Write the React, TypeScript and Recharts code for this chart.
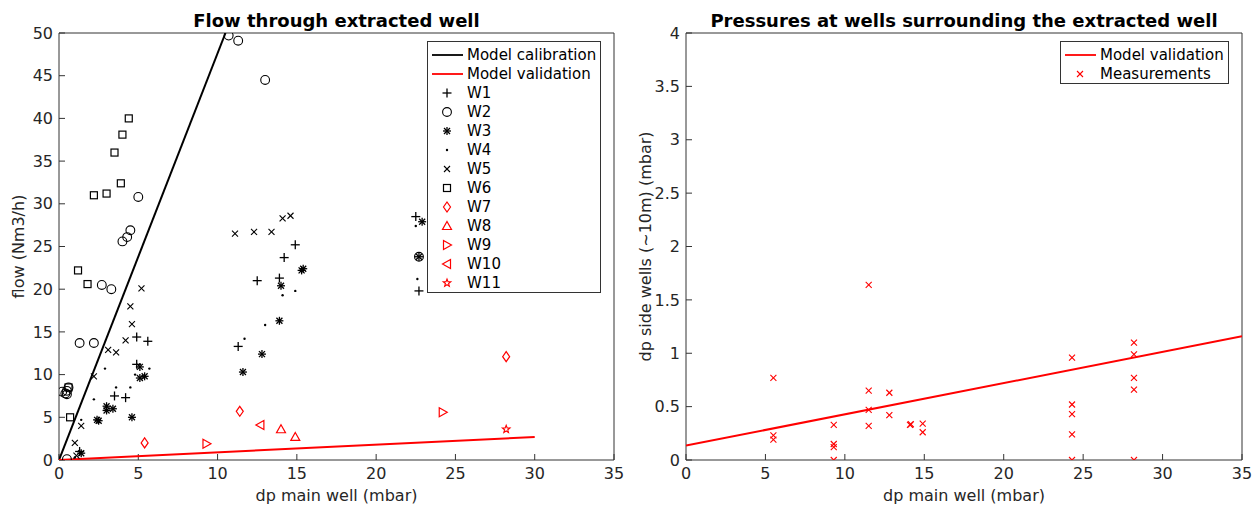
import React from 'react';
import { ScatterChart, Scatter, XAxis, YAxis, Legend } from 'recharts';

// ---- data ----
const xTicks = [0, 5, 10, 15, 20, 25, 30, 35];
const flowTicks = [0, 5, 10, 15, 20, 25, 30, 35, 40, 45, 50];
const dpTicks = [0, 0.5, 1, 1.5, 2, 2.5, 3, 3.5, 4];

const calibration = [
  { x: 0, y: 0 },
  { x: 10.5, y: 50 },
];
const validationFlow = [
  { x: 0, y: 0 },
  { x: 30, y: 2.7 },
];
const validationSide = [
  { x: 0, y: 0.135 },
  { x: 35, y: 1.16 },
];

const toPts = (a: number[][]) => a.map(([x, y]) => ({ x, y }));

const w1 = toPts([[22.5, 28.5], [22.7, 19.8], [14.9, 25.2], [14.2, 23.7], [12.5, 21.0], [13.9, 21.3], [11.3, 13.3], [4.9, 14.4], [5.6, 13.9], [4.9, 11.2], [3.5, 7.5], [4.2, 7.3], [1.3, 1.0]]);
const w2 = toPts([[10.7, 49.7], [11.3, 49.1], [13.0, 44.5], [5.0, 30.8], [4.5, 26.9], [4.3, 26.1], [4.0, 25.6], [2.7, 20.5], [3.3, 20.0], [1.3, 13.7], [2.2, 13.7], [0.2, 8.0], [0.4, 7.8], [0.5, 7.7], [0.5, 8.1], [0.6, 8.5], [0.5, 0.1], [22.7, 23.8]]);
const w3 = toPts([[5.1, 10.9], [5.1, 9.6], [5.4, 9.8], [3.0, 6.3], [3.4, 6.0], [3.0, 5.8], [2.4, 4.7], [2.5, 4.6], [4.6, 5.0], [1.4, 0.8], [15.3, 22.2], [15.4, 22.4], [14.0, 20.4], [13.9, 16.3], [12.8, 12.4], [11.6, 10.3], [22.9, 27.9], [22.7, 23.8]]);
const w4 = toPts([[14.9, 19.8], [14.1, 19.3], [13.0, 15.8], [11.7, 14.2], [2.9, 10.7], [5.7, 10.7], [4.8, 10.0], [4.5, 8.5], [3.6, 8.5], [2.2, 7.1], [1.4, 4.7], [22.5, 27.4], [22.6, 21.2], [1.0, 0.3]]);
const w5 = toPts([[11.1, 26.5], [12.3, 26.7], [13.4, 26.7], [14.1, 28.3], [14.6, 28.6], [5.2, 20.1], [4.5, 18.0], [4.6, 15.9], [4.2, 14.0], [3.1, 12.9], [3.6, 12.6], [2.2, 9.8], [1.4, 4.0], [1.0, 2.0], [1.1, 0.5]]);
const w6 = toPts([[4.4, 40.0], [4.0, 38.1], [3.5, 36.0], [3.9, 32.4], [2.2, 31.0], [3.0, 31.2], [1.2, 22.2], [1.8, 20.6], [0.6, 8.5], [0.7, 5.0]]);
const w7 = toPts([[5.4, 2.0], [11.4, 5.7], [28.2, 12.1]]);
const w8 = toPts([[14.0, 3.6], [14.9, 2.7]]);
const w9 = toPts([[9.3, 1.9], [24.2, 5.6]]);
const w10 = toPts([[12.7, 4.1]]);
const w11 = toPts([[28.2, 3.6]]);

const measurements = toPts([
  [5.5, 0.77], [5.5, 0.23], [5.5, 0.19],
  [9.3, 0.33], [9.3, 0.15], [9.3, 0.12], [9.3, 0],
  [11.5, 1.64], [11.5, 0.65], [11.5, 0.47], [11.5, 0.32],
  [12.8, 0.63], [12.8, 0.42],
  [14.1, 0.33], [14.15, 0.335],
  [14.9, 0.34], [14.9, 0.26],
  [24.3, 0.96], [24.3, 0.52], [24.3, 0.43], [24.3, 0.24], [24.3, 0],
  [28.2, 1.10], [28.2, 0.99], [28.2, 0.77], [28.2, 0.66], [28.2, 0],
]);

// ---- marker glyphs ----
const BLACK = '#000';
const RED = '#ff0000';
const FONT = 'DejaVu Sans, sans-serif';

type Glyph = (cx: number, cy: number) => React.ReactElement;

const plus: Glyph = (cx, cy) => (
  <g stroke={BLACK} strokeWidth={1.3}>
    <line x1={cx - 4.5} y1={cy} x2={cx + 4.5} y2={cy} />
    <line x1={cx} y1={cy - 4.5} x2={cx} y2={cy + 4.5} />
  </g>
);
const circle: Glyph = (cx, cy) => <circle cx={cx} cy={cy} r={4.4} fill="none" stroke={BLACK} strokeWidth={1.1} />;
const asterisk: Glyph = (cx, cy) => (
  <g stroke={BLACK} strokeWidth={1.3}>
    <line x1={cx - 4} y1={cy} x2={cx + 4} y2={cy} />
    <line x1={cx} y1={cy - 4} x2={cx} y2={cy + 4} />
    <line x1={cx - 3} y1={cy - 3} x2={cx + 3} y2={cy + 3} />
    <line x1={cx - 3} y1={cy + 3} x2={cx + 3} y2={cy - 3} />
  </g>
);
const dot: Glyph = (cx, cy) => <circle cx={cx} cy={cy} r={1.2} fill={BLACK} />;
const cross = (color: string): Glyph => (cx, cy) => (
  <g stroke={color} strokeWidth={1.1}>
    <line x1={cx - 3} y1={cy - 3} x2={cx + 3} y2={cy + 3} />
    <line x1={cx - 3} y1={cy + 3} x2={cx + 3} y2={cy - 3} />
  </g>
);
const square: Glyph = (cx, cy) => <rect x={cx - 3.5} y={cy - 3.5} width={7} height={7} fill="none" stroke={BLACK} strokeWidth={1.2} />;
const diamond: Glyph = (cx, cy) => (
  <polygon points={`${cx},${cy - 5} ${cx + 3.5},${cy} ${cx},${cy + 5} ${cx - 3.5},${cy}`} fill="none" stroke={RED} strokeWidth={1.2} />
);
const triUp: Glyph = (cx, cy) => (
  <polygon points={`${cx},${cy - 4.5} ${cx + 4.5},${cy + 3.5} ${cx - 4.5},${cy + 3.5}`} fill="none" stroke={RED} strokeWidth={1.2} />
);
const triRight: Glyph = (cx, cy) => (
  <polygon points={`${cx + 4.5},${cy} ${cx - 3.5},${cy - 4.5} ${cx - 3.5},${cy + 4.5}`} fill="none" stroke={RED} strokeWidth={1.2} />
);
const triLeft: Glyph = (cx, cy) => (
  <polygon points={`${cx - 4.5},${cy} ${cx + 3.5},${cy - 4.5} ${cx + 3.5},${cy + 4.5}`} fill="none" stroke={RED} strokeWidth={1.2} />
);
const star: Glyph = (cx, cy) => {
  const pts: string[] = [];
  for (let i = 0; i < 10; i++) {
    const r = i % 2 === 0 ? 4 : 1.7;
    const a = -Math.PI / 2 + (i * Math.PI) / 5;
    pts.push(`${cx + r * Math.cos(a)},${cy + r * Math.sin(a)}`);
  }
  return <polygon points={pts.join(' ')} fill="none" stroke={RED} strokeWidth={1.1} />;
};

const shapeOf = (g: Glyph) => (p: any) => g(p.cx, p.cy);
const noMarker = () => <g />;

const wells = [
  { name: 'W1', data: w1, glyph: plus },
  { name: 'W2', data: w2, glyph: circle },
  { name: 'W3', data: w3, glyph: asterisk },
  { name: 'W4', data: w4, glyph: dot },
  { name: 'W5', data: w5, glyph: cross(BLACK) },
  { name: 'W6', data: w6, glyph: square },
  { name: 'W7', data: w7, glyph: diamond },
  { name: 'W8', data: w8, glyph: triUp },
  { name: 'W9', data: w9, glyph: triRight },
  { name: 'W10', data: w10, glyph: triLeft },
  { name: 'W11', data: w11, glyph: star },
];

// ---- legend box ----
type Row = { label: string; line?: string; glyph?: Glyph };

function LegendBox({ rows, width }: { rows: Row[]; width: number }) {
  const h = 14 + 19 * (rows.length - 1) + 10;
  return (
    <svg width={width} height={h} style={{ display: 'block' }}>
      <rect x={0.5} y={0.5} width={width - 1} height={h - 1} fill="#fff" stroke="#333" strokeWidth={1} />
      {rows.map((r, i) => {
        const y = 14 + 19 * i;
        return (
          <g key={r.label}>
            {r.line && <line x1={5} y1={y} x2={36} y2={y} stroke={r.line} strokeWidth={1.8} />}
            {r.glyph && r.glyph(20, y)}
            <text x={40} y={y} dy="0.35em" fontSize={15} fontFamily={FONT} fill="#000">
              {r.label}
            </text>
          </g>
        );
      })}
    </svg>
  );
}

const leftRows: Row[] = [
  { label: 'Model calibration', line: BLACK },
  { label: 'Model validation', line: RED },
  ...wells.map((w) => ({ label: w.name, glyph: w.glyph })),
];
const rightRows: Row[] = [
  { label: 'Model validation', line: RED },
  { label: 'Measurements', glyph: cross(RED) },
];

const tickStyle = { fontSize: 16, fill: '#262626', fontFamily: FONT };
const axisColor = '#333';
const titleLabel = (value: string) => ({
  value,
  position: 'top' as const,
  offset: 5,
  fontSize: 18,
  fontWeight: 700,
  fill: '#000',
  fontFamily: FONT,
});

function BoxAxes({ yDomain, yTicks, yWidth, yLabel, yLabelOffset, title }: any) {
  return [
    <XAxis
      key="xb"
      type="number"
      dataKey="x"
      domain={[0, 35]}
      ticks={xTicks}
      allowDataOverflow
      height={45}
      tickSize={-6}
      tickMargin={14}
      stroke={axisColor}
      tick={tickStyle}
      label={{ value: 'dp main well (mbar)', position: 'insideBottom', offset: 4, fontSize: 16, fill: '#262626', fontFamily: FONT }}
    />,
    <XAxis
      key="xt"
      xAxisId="top"
      orientation="top"
      type="number"
      dataKey="x"
      domain={[0, 35]}
      ticks={xTicks}
      allowDataOverflow
      height={1}
      tickSize={-6}
      stroke={axisColor}
      tick={false}
      label={titleLabel(title)}
    />,
    <YAxis
      key="yl"
      type="number"
      dataKey="y"
      domain={yDomain}
      ticks={yTicks}
      allowDataOverflow
      width={yWidth}
      tickSize={-6}
      tickMargin={12}
      stroke={axisColor}
      tick={tickStyle}
      label={{
        value: yLabel,
        angle: -90,
        position: 'insideLeft',
        offset: yLabelOffset,
        fontSize: 16,
        fill: '#262626',
        fontFamily: FONT,
        style: { textAnchor: 'middle' },
      }}
    />,
    <YAxis
      key="yr"
      yAxisId="right"
      orientation="right"
      type="number"
      dataKey="y"
      domain={yDomain}
      ticks={yTicks}
      allowDataOverflow
      width={1}
      tickSize={-6}
      stroke={axisColor}
      tick={false}
    />,
  ];
}

// invisible series bound to the top/right axes so they get drawn (box frame)
const frameSeries = (data: { x: number; y: number }[]) => (
  <Scatter xAxisId="top" yAxisId="right" data={data} shape={noMarker} isAnimationActive={false} legendType="none" />
);

export default function App() {
  return (
    <div style={{ position: 'fixed', left: 0, top: 0, width: 1257, height: 505, background: '#fff' }}>
      <div style={{ position: 'absolute', left: 0, top: 0 }}>
        <ScatterChart width={628} height={505} margin={{ top: 32, right: 13, bottom: 0, left: 0 }}>
          {BoxAxes({ yDomain: [0, 50], yTicks: flowTicks, yWidth: 59, yLabel: 'flow (Nm3/h)', yLabelOffset: 18, title: 'Flow through extracted well' })}
          {frameSeries(calibration)}
          <Scatter data={calibration} line={{ stroke: BLACK, strokeWidth: 2 }} shape={noMarker} isAnimationActive={false} />
          <Scatter data={validationFlow} line={{ stroke: RED, strokeWidth: 2 }} shape={noMarker} isAnimationActive={false} />
          {wells.map((w) => (
            <Scatter key={w.name} name={w.name} data={w.data} shape={shapeOf(w.glyph)} isAnimationActive={false} />
          ))}
          <Legend
            layout="horizontal"
            verticalAlign="middle"
            align="center"
            wrapperStyle={{ position: 'absolute', left: 427, top: 41, width: 174, height: 252 }}
            content={() => <LegendBox rows={leftRows} width={174} />}
          />
        </ScatterChart>
      </div>
      <div style={{ position: 'absolute', left: 628, top: 0 }}>
        <ScatterChart width={629} height={505} margin={{ top: 32, right: 14, bottom: 0, left: 0 }}>
          {BoxAxes({ yDomain: [0, 4], yTicks: dpTicks, yWidth: 58, yLabel: 'dp side wells (~10m) (mbar)', yLabelOffset: 17, title: 'Pressures at wells surrounding the extracted well' })}
          {frameSeries(validationSide)}
          <Scatter data={validationSide} line={{ stroke: RED, strokeWidth: 2 }} shape={noMarker} isAnimationActive={false} />
          <Scatter name="Measurements" data={measurements} shape={shapeOf(cross(RED))} isAnimationActive={false} />
          <Legend
            layout="horizontal"
            verticalAlign="middle"
            align="center"
            wrapperStyle={{ position: 'absolute', left: 432, top: 41, width: 169, height: 46 }}
            content={() => <LegendBox rows={rightRows} width={169} />}
          />
        </ScatterChart>
      </div>
    </div>
  );
}
